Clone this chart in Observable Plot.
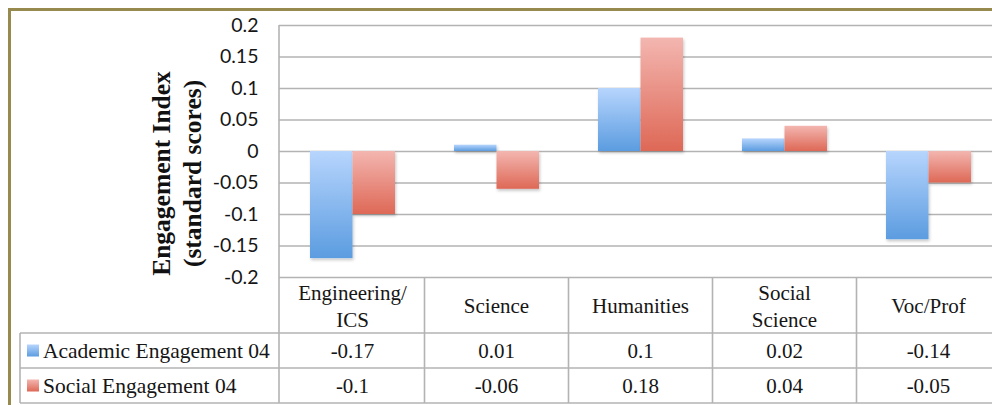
<!DOCTYPE html>
<html><head><meta charset="utf-8">
<script src="https://cdn.jsdelivr.net/npm/d3@7"></script>
<script src="https://cdn.jsdelivr.net/npm/@observablehq/plot@0.6"></script>
<style>
html,body{margin:0;padding:0;background:#fff;overflow:hidden;width:992px;height:405px;}
#wrap{position:relative;width:992px;height:405px;overflow:hidden;background:#fff;}
#chart{position:absolute;left:0;top:0;width:1001px;}
#frame{position:absolute;left:8px;top:8px;width:1100px;height:600px;border-left:3px solid #978a4f;border-top:3px solid #978a4f;pointer-events:none;}
</style></head><body>
<div id="wrap"><div id="chart"></div><div id="frame"></div></div>
<script>
// ---- data ----
const categories = ["Engineering/\nICS", "Science", "Humanities", "Social\nScience", "Voc/Prof"];
const academic = [-0.17, 0.01, 0.1, 0.02, -0.14];
const social = [-0.1, -0.06, 0.18, 0.04, -0.05];
const seriesNames = ["Academic Engagement 04", "Social Engagement 04"];
const yTicks = [-0.2, -0.15, -0.1, -0.05, 0, 0.05, 0.1, 0.15, 0.2];
const yTickLabels = ["-0.2", "-0.15", "-0.1", "-0.05", "0", "0.05", "0.1", "0.15", "0.2"];
const yTitle = "Engagement Index\n(standard scores)";

const rows = categories.map((c, i) => ({category: c, academic: academic[i], social: social[i]}));

const serif = "'Liberation Serif', 'Times New Roman', serif";
const gridColor = "#b3b3b3";

const chart = Plot.plot({
  width: 1001,
  height: 405,
  marginTop: 25,
  marginBottom: 128,
  marginLeft: 279,
  marginRight: 0,
  style: {fontFamily: "Lato, sans-serif", fontSize: "19.5px", color: "#161616", background: "transparent", maxWidth: "none"},
  x: {domain: categories, paddingInner: 0.411, paddingOuter: 0.2055, axis: null},
  y: {domain: [-0.2, 0.2], ticks: yTicks, tickFormat: d => yTickLabels[yTicks.indexOf(d)], tickSize: 0, tickPadding: 21, label: null},
  marks: [
    Plot.ruleY(yTicks, {stroke: gridColor, strokeWidth: 1.6}),
    Plot.barY(rows, {x: "category", y: "academic", fill: "url(#gradA)", insetRight: 42.5}),
    Plot.barY(rows, {x: "category", y: "social", fill: "url(#gradS)", insetLeft: 42.5}),
    Plot.text([yTitle], {text: d => d, frameAnchor: "left", textAnchor: "middle", lineAnchor: "middle", rotate: -90, dx: -104, dy: 22,
      fontFamily: serif, fontWeight: "bold", fontSize: 25.5, lineHeight: 1.22, fill: "#111"})
  ]
});
document.getElementById("chart").appendChild(chart);

const svg = d3.select(chart);
const defs = svg.insert("defs", ":first-child");
function grad(id, top, bottom) {
  const g = defs.append("linearGradient").attr("id", id).attr("x1", 0).attr("y1", 0).attr("x2", 0).attr("y2", 1);
  g.append("stop").attr("offset", "0%").attr("stop-color", top);
  g.append("stop").attr("offset", "100%").attr("stop-color", bottom);
}
grad("gradA", "#b7d5fd", "#5b9ce0");
grad("gradS", "#f3b6b0", "#de6856");
const f = defs.append("filter").attr("id", "shadow").attr("x", "-20%").attr("y", "-20%").attr("width", "140%").attr("height", "140%");
f.append("feDropShadow").attr("dx", 1).attr("dy", 2).attr("stdDeviation", 1.5).attr("flood-color", "#000").attr("flood-opacity", 0.22);
svg.selectAll("g[aria-label='bar']").attr("filter", "url(#shadow)");

// ---- data table, positioned from the plot's own scales ----
const xs = chart.scale("x");
const ys = chart.scale("y");
const bw = xs.bandwidth;
const step = xs.apply(categories[1]) - xs.apply(categories[0]);
const colLeft = c => xs.apply(c) - (step - bw) / 2;
const colCenter = c => xs.apply(c) + bw / 2;
const plotLeft = xs.range[0], plotRight = xs.range[1];
const yTop = ys.apply(0.2), yBase = ys.apply(-0.2);
const headerH = 56, rowH = 35, tableLeft = 20;
const r1 = yBase + headerH, r2 = r1 + rowH, r3 = r2 + rowH;

const t = svg.append("g").attr("class", "table").attr("text-anchor", "start");
const line = (x1, y1, x2, y2) => t.append("line").attr("x1", x1).attr("y1", y1).attr("x2", x2).attr("y2", y2)
  .attr("stroke", gridColor).attr("stroke-width", 1.6);
line(plotLeft, yTop, plotLeft, r3);
[r1, r2, r3].forEach(y => line(tableLeft, y, plotRight, y));
line(tableLeft, r1, tableLeft, r3);
categories.slice(1).forEach(c => line(colLeft(c), yBase, colLeft(c), r3));
line(plotRight, yBase, plotRight, r3);

// header labels
categories.forEach(c => {
  const parts = c.split("\n");
  const lh = 27;
  const cy = yBase + headerH / 2 + 1;
  parts.forEach((p, i) => {
    t.append("text").attr("x", colCenter(c)).attr("y", cy + (i - (parts.length - 1) / 2) * lh)
      .attr("dy", "0.34em").attr("text-anchor", "middle")
      .attr("font-family", serif).attr("font-size", 21).attr("fill", "#161616").text(p);
  });
});

// rows
const seriesValues = [academic, social];
const seriesGrad = ["url(#gradA)", "url(#gradS)"];
[r1, r2].forEach((ry, k) => {
  const cy = ry + rowH / 2;
  t.append("rect").attr("x", 27).attr("y", cy - 6).attr("width", 12).attr("height", 12).attr("fill", seriesGrad[k]);
  t.append("text").attr("x", 43).attr("y", cy).attr("dy", "0.34em").attr("text-anchor", "start")
    .attr("font-family", serif).attr("font-size", 21.5).attr("fill", "#161616").text(seriesNames[k]);
  categories.forEach((c, i) => {
    t.append("text").attr("x", colCenter(c)).attr("y", cy).attr("dy", "0.34em").attr("text-anchor", "middle")
      .attr("font-family", serif).attr("font-size", 21).attr("fill", "#161616").text(String(seriesValues[k][i]));
  });
});
</script>
</body></html>
